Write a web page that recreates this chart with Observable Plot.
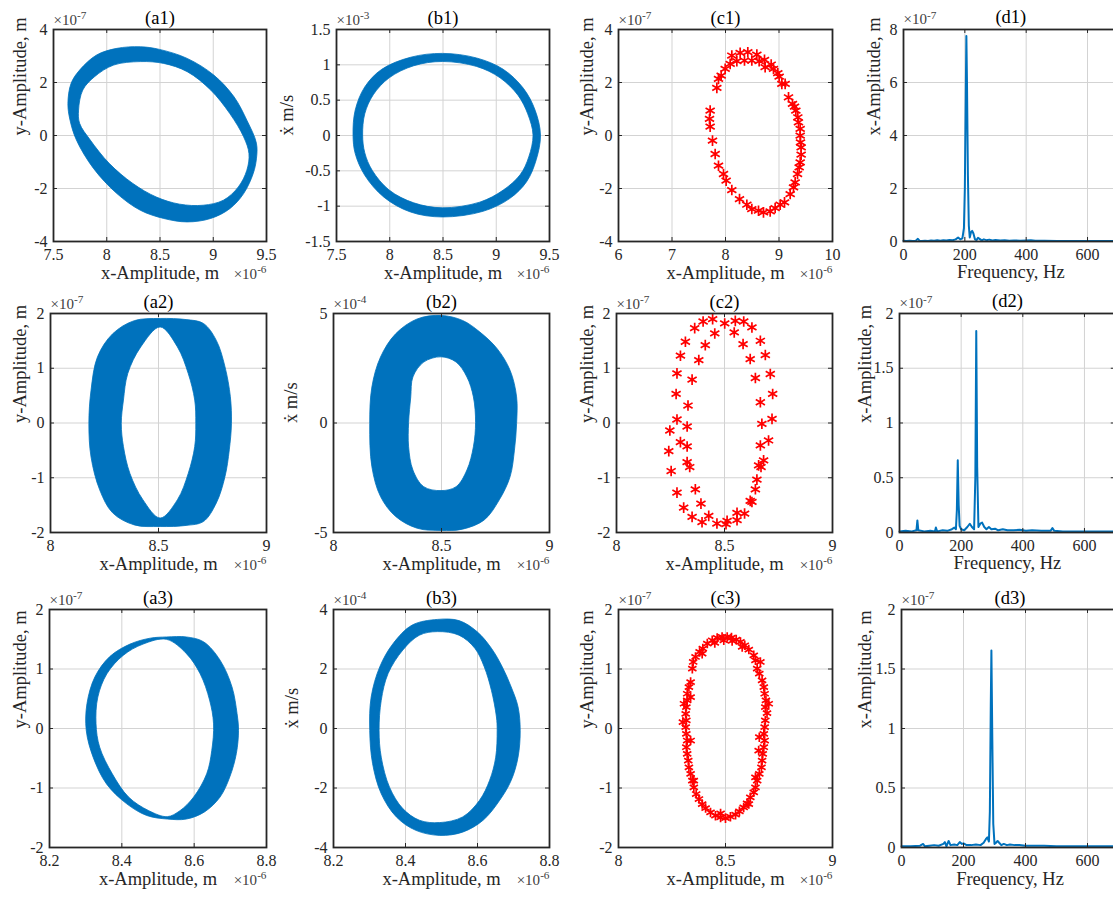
<!DOCTYPE html>
<html><head><meta charset="utf-8">
<script src="https://cdn.jsdelivr.net/npm/d3@7"></script>
<script src="https://cdn.jsdelivr.net/npm/@observablehq/plot@0.6"></script>
<style>
html,body{margin:0;padding:0;background:#fff;width:1113px;height:899px;overflow:hidden;position:relative;}
.panel{position:absolute;}
.panel svg{background:transparent;overflow:visible;}
</style></head><body>
<script>
// ---------- DATA (x in ×10^-6 m, y in the axis multiplier units) ----------
// Phase portraits: outer and inner boundary of each trajectory band
const a1Outer = [[7.64,1.19],[7.67,1.95],[7.75,2.45],[7.91,3.02],[8.10,3.27],[8.32,3.33],[8.50,3.23],[8.76,2.89],[9.01,2.26],[9.20,1.44],[9.32,0.56],[9.41,-0.31],[9.41,-0.9],[9.38,-1.45],[9.29,-2.21],[9.16,-2.78],[8.98,-3.15],[8.76,-3.28],[8.54,-3.15],[8.32,-2.84],[8.10,-2.21],[7.88,-1.26],[7.72,-0.19],[7.66,0.56]];
const a1Inner = [[7.74,0.94],[7.78,1.70],[7.89,2.20],[8.07,2.64],[8.32,2.77],[8.54,2.70],[8.76,2.39],[8.98,1.70],[9.16,0.81],[9.29,-0.07],[9.34,-0.70],[9.32,-1.33],[9.24,-1.96],[9.10,-2.46],[8.91,-2.65],[8.69,-2.61],[8.47,-2.34],[8.25,-1.83],[8.03,-1.08],[7.85,-0.19],[7.75,0.44]];

const b1Outer = [[8.5,1.155],[8.82,1.09],[9.07,0.93],[9.26,0.66],[9.37,0.35],[9.42,0],[9.38,-0.35],[9.29,-0.66],[9.13,-0.9],[8.88,-1.08],[8.5,-1.16],[8.2,-1.09],[7.95,-0.88],[7.77,-0.57],[7.68,-0.26],[7.66,0],[7.68,0.35],[7.77,0.68],[7.93,0.93],[8.2,1.10]];
const b1Inner = [[8.5,1.04],[8.82,0.97],[9.04,0.81],[9.21,0.56],[9.30,0.30],[9.35,0],[9.31,-0.31],[9.23,-0.56],[9.07,-0.78],[8.85,-0.95],[8.5,-1.03],[8.23,-0.96],[8.0,-0.78],[7.84,-0.50],[7.77,-0.25],[7.75,0],[7.77,0.30],[7.85,0.57],[8.0,0.81],[8.23,0.98]];

const a2Outer = [[8.51,1.90],[8.63,1.88],[8.71,1.81],[8.77,1.50],[8.81,1.02],[8.835,0.47],[8.84,-0.02],[8.83,-0.50],[8.81,-0.99],[8.77,-1.47],[8.71,-1.81],[8.63,-1.88],[8.51,-1.90],[8.39,-1.87],[8.29,-1.65],[8.23,-1.23],[8.19,-0.63],[8.18,-0.02],[8.19,0.59],[8.22,1.20],[8.29,1.62],[8.39,1.86]];
const a2Inner = [[8.51,1.745],[8.59,1.38],[8.64,0.895],[8.67,0.41],[8.675,-0.02],[8.67,-0.44],[8.64,-0.93],[8.59,-1.41],[8.51,-1.745],[8.43,-1.41],[8.37,-0.93],[8.34,-0.44],[8.33,-0.02],[8.34,0.41],[8.36,0.895],[8.42,1.38]];

const b2Outer = [[8.5,4.89],[8.60,4.66],[8.68,4.13],[8.76,3.37],[8.82,2.38],[8.85,1.17],[8.85,-0.05],[8.84,-1.26],[8.82,-2.47],[8.77,-3.53],[8.70,-4.45],[8.60,-4.87],[8.5,-4.93],[8.39,-4.83],[8.29,-4.29],[8.22,-3.38],[8.18,-2.02],[8.17,-0.05],[8.18,1.62],[8.22,2.99],[8.29,4.05],[8.39,4.73]];
const b2Inner = [[8.5,3.0],[8.57,2.76],[8.62,2.08],[8.65,1.17],[8.66,0],[8.65,-1.11],[8.62,-2.17],[8.57,-2.93],[8.5,-3.11],[8.42,-2.93],[8.37,-2.17],[8.35,-1.11],[8.35,0],[8.36,1.17],[8.37,2.08],[8.42,2.76]];

const a3Outer = [[8.525,1.53],[8.58,1.53],[8.627,1.45],[8.673,1.14],[8.706,0.69],[8.72,0.24],[8.724,-0.04],[8.718,-0.43],[8.70,-0.82],[8.673,-1.16],[8.63,-1.41],[8.58,-1.53],[8.527,-1.53],[8.47,-1.47],[8.414,-1.27],[8.359,-0.94],[8.322,-0.49],[8.303,-0.04],[8.305,0.41],[8.327,0.86],[8.368,1.20],[8.424,1.41],[8.48,1.51]];
const a3Inner = [[8.525,1.49],[8.58,1.25],[8.618,0.91],[8.644,0.47],[8.655,0.07],[8.65,-0.38],[8.636,-0.77],[8.60,-1.16],[8.562,-1.39],[8.527,-1.49],[8.476,-1.39],[8.42,-1.16],[8.375,-0.77],[8.34,-0.32],[8.33,0.07],[8.335,0.52],[8.36,0.91],[8.405,1.22],[8.46,1.41]];

const b3Outer = [[8.49,3.65],[8.55,3.61],[8.60,3.24],[8.64,2.68],[8.67,2.06],[8.695,1.38],[8.714,0.71],[8.72,-0.08],[8.714,-0.98],[8.695,-1.76],[8.663,-2.43],[8.617,-3.10],[8.56,-3.50],[8.496,-3.61],[8.43,-3.44],[8.376,-2.99],[8.334,-2.21],[8.31,-1.20],[8.302,-0.08],[8.306,1.04],[8.33,2.06],[8.367,2.84],[8.42,3.46]];
const b3Inner = [[8.49,3.24],[8.55,3.12],[8.594,2.68],[8.62,2.06],[8.64,1.27],[8.654,0.37],[8.656,-0.08],[8.652,-0.98],[8.635,-1.76],[8.607,-2.43],[8.56,-2.99],[8.496,-3.18],[8.44,-3.10],[8.394,-2.71],[8.357,-1.99],[8.334,-0.98],[8.328,-0.08],[8.334,0.93],[8.353,1.83],[8.394,2.62],[8.44,3.12]];

// Poincaré sections (asterisk markers)
const c1Points = [[7.838,1.796],[7.713,0.94],[7.701,0.625],[7.713,0.335],[7.757,-0.194],[7.807,-0.698],[7.869,-1.139],[7.963,-1.453],[8.012,-1.705],[8.118,-2.058],[8.262,-2.398],[8.399,-2.612],[8.492,-2.776],[8.617,-2.839],[8.710,-2.902],[8.835,-2.864],[8.928,-2.738],[9.022,-2.612],[9.103,-2.524],[9.209,-2.209],[9.271,-1.957],[9.302,-1.768],[9.346,-1.453],[9.377,-1.202],[9.396,-1.013],[9.414,-0.723],[9.414,-0.446],[9.402,-0.257],[9.396,-0.005],[9.396,0.247],[9.364,0.499],[9.352,0.688],[9.315,0.940],[9.290,1.091],[9.252,1.191],[9.178,1.443],[9.115,1.947],[9.053,1.947],[9.003,2.224],[8.978,2.350],[8.897,2.514],[8.854,2.678],[8.741,2.577],[8.729,2.854],[8.629,2.804],[8.586,3.055],[8.492,2.829],[8.417,3.144],[8.355,2.829],[8.274,3.118],[8.212,2.804],[8.118,3.018],[8.087,2.703],[7.994,2.514],[7.919,2.262],[7.869,2.136]];
const c2Points = [[8.319,1.484],[8.362,1.733],[8.401,1.854],[8.445,1.897],[8.455,1.636],[8.411,1.423],[8.381,1.150],[8.296,1.229],[8.280,0.907],[8.350,0.792],[8.276,0.531],[8.331,0.319],[8.280,0.064],[8.247,-0.137],[8.327,-0.064],[8.296,-0.349],[8.327,-0.428],[8.242,-0.513],[8.327,-0.713],[8.339,-0.804],[8.253,-0.877],[8.280,-1.272],[8.365,-1.211],[8.311,-1.545],[8.391,-1.472],[8.350,-1.715],[8.427,-1.697],[8.396,-1.812],[8.465,-1.836],[8.512,-1.788],[8.507,-1.848],[8.558,-1.775],[8.558,-1.642],[8.593,-1.654],[8.619,-1.423],[8.627,-1.442],[8.643,-1.211],[8.650,-1.035],[8.669,-0.804],[8.681,-0.683],[8.658,-0.774],[8.666,-0.410],[8.673,-0.015],[8.666,0.379],[8.643,0.822],[8.619,1.168],[8.586,1.442],[8.545,1.654],[8.501,1.818],[8.550,1.866],[8.589,1.854],[8.627,1.745],[8.666,1.502],[8.689,1.241],[8.712,0.895],[8.723,0.531],[8.720,0.076],[8.704,-0.319]];
const c3Points = [[8.345,1.006],[8.349,1.118],[8.360,1.202],[8.379,1.287],[8.394,1.343],[8.415,1.427],[8.438,1.483],[8.461,1.522],[8.484,1.539],[8.508,1.539],[8.528,1.528],[8.550,1.494],[8.570,1.455],[8.590,1.399],[8.609,1.326],[8.632,1.230],[8.640,1.146],[8.648,1.006],[8.658,0.921],[8.671,0.809],[8.679,0.697],[8.683,0.584],[8.689,0.472],[8.686,0.360],[8.694,0.258],[8.686,0.135],[8.683,0.022],[8.679,-0.090],[8.683,-0.202],[8.679,-0.315],[8.674,-0.427],[8.671,-0.539],[8.668,-0.652],[8.658,-0.764],[8.648,-0.876],[8.640,-0.989],[8.632,-1.073],[8.616,-1.157],[8.601,-1.258],[8.585,-1.326],[8.565,-1.393],[8.547,-1.449],[8.523,-1.483],[8.500,-1.506],[8.477,-1.494],[8.453,-1.466],[8.430,-1.410],[8.407,-1.337],[8.391,-1.270],[8.376,-1.185],[8.363,-1.101],[8.352,-0.989],[8.345,-0.876],[8.337,-0.764],[8.329,-0.652],[8.326,-0.539],[8.321,-0.427],[8.317,-0.315],[8.321,-0.202],[8.317,-0.090],[8.314,0.022],[8.317,0.135],[8.314,0.247],[8.317,0.360],[8.321,0.472],[8.321,0.584],[8.329,0.697],[8.337,0.781],[8.450,1.438],[8.492,1.483],[8.531,1.472],[8.578,1.371],[8.391,1.258],[8.663,1.118],[8.702,0.416],[8.658,-0.146],[8.655,-0.371],[8.640,-0.820],[8.609,-1.270],[8.477,-1.427],[8.352,-0.876],[8.337,-0.202],[8.301,0.107],[8.337,0.528],[8.306,0.416]];

// Frequency spectra: [frequency Hz, x-amplitude ×10^-7 m]
const d1Spectrum = [[0,0.03],[10,0.02],[20,0.03],[30,0.02],[40,0.03],[47,0.1],[52,0.03],[60,0.02],[70,0.03],[80,0.02],[90,0.04],[100,0.03],[110,0.05],[120,0.03],[130,0.05],[140,0.04],[150,0.06],[160,0.05],[170,0.08],[178,0.15],[185,0.08],[192,0.12],[197,0.5],[200,2.0],[203,5.5],[205,7.75],[207,6.0],[210,2.5],[213,0.6],[216,0.15],[220,0.35],[224,0.4],[228,0.3],[233,0.08],[238,0.05],[243,0.14],[248,0.1],[255,0.04],[262,0.08],[270,0.05],[280,0.07],[290,0.04],[300,0.06],[315,0.04],[330,0.05],[345,0.03],[360,0.04],[380,0.03],[400,0.04],[415,0.05],[430,0.03],[460,0.03],[500,0.02],[550,0.02],[600,0.02],[650,0.02],[700,0.02]];
const d2Spectrum = [[0,0.01],[20,0.015],[40,0.01],[55,0.02],[58,0.11],[61,0.02],[80,0.01],[100,0.015],[115,0.01],[118,0.045],[122,0.01],[140,0.02],[155,0.015],[170,0.03],[178,0.045],[183,0.03],[186,0.2],[189,0.66],[192,0.25],[195,0.06],[200,0.03],[210,0.02],[220,0.05],[228,0.08],[235,0.05],[242,0.03],[246,0.5],[249,1.84],[252,0.6],[256,0.05],[262,0.08],[268,0.09],[275,0.05],[282,0.03],[290,0.05],[298,0.03],[310,0.035],[320,0.02],[335,0.03],[350,0.02],[370,0.02],[390,0.025],[410,0.015],[430,0.02],[460,0.015],[490,0.015],[496,0.04],[502,0.015],[530,0.01],[570,0.01],[620,0.01],[700,0.01]];
const d3Spectrum = [[0,0.01],[30,0.01],[60,0.015],[70,0.03],[75,0.01],[90,0.015],[105,0.02],[120,0.015],[135,0.03],[140,0.045],[145,0.01],[152,0.055],[158,0.02],[170,0.025],[180,0.02],[188,0.045],[195,0.03],[200,0.035],[210,0.02],[225,0.02],[240,0.025],[255,0.02],[265,0.04],[272,0.07],[277,0.085],[282,0.05],[285,0.3],[288,1.2],[290,1.655],[293,0.9],[296,0.2],[300,0.03],[305,0.04],[310,0.055],[315,0.04],[322,0.02],[330,0.03],[340,0.02],[350,0.025],[365,0.02],[380,0.02],[400,0.015],[430,0.015],[460,0.015],[500,0.01],[550,0.01],[600,0.01],[700,0.01]];

// Tick values
const xTicksA1B1 = [7.5,8,8.5,9,9.5];
const yTicksA1 = [-4,-2,0,2,4];
const yTicksB1 = [-1.5,-1,-0.5,0,0.5,1,1.5];
const xTicksC1 = [6,7,8,9,10];
const yTicksC1 = [-4,-2,0,2,4];
const xTicksD = [0,200,400,600];
const yTicksD1 = [0,2,4,6,8];
const xTicksRow2 = [8,8.5,9];
const yTicksA2 = [-2,-1,0,1,2];
const yTicksB2 = [-5,0,5];
const yTicksC2 = [-2,-1,0,1,2];
const yTicksD2 = [0,0.5,1,1.5,2];
const xTicksAB3 = [8.2,8.4,8.6,8.8];
const yTicksA3 = [-2,-1,0,1,2];
const yTicksB3 = [-4,-2,0,2,4];
const xTicksC3 = [8,8.5,9];
const yTicksC3 = [-2,-1,0,1,2];
const yTicksD3 = [0,0.5,1,1.5,2];

const titles = ["(a1)","(b1)","(c1)","(d1)","(a2)","(b2)","(c2)","(d2)","(a3)","(b3)","(c3)","(d3)"];

// ---------- STYLE / LAYOUT ----------
const BLUE = "#0072BD", RED = "#FF0000", GRID = "#d3d3d3", AXIS = "#262626";
const FONT = "'Liberation Serif','Times New Roman','DejaVu Serif',serif";
const XA = "x-Amplitude, m", YA = "y-Amplitude, m", XD = "ẋ m/s", FR = "Frequency, Hz";
const E7 = "×10|-7", E6 = "×10|-6", E3 = "×10|-3", E4 = "×10|-4";

function band(outer, inner) {
  return Plot.dot(outer.concat(inner), {
    x: d => d[0], y: d => d[1],
    render(index, scales) {
      const line = d3.line(d => scales.x(d[0]), d => scales.y(d[1])).curve(d3.curveCatmullRomClosed);
      return d3.create("svg:path")
        .attr("d", line(outer) + line(inner))
        .attr("fill", BLUE).attr("fill-rule", "evenodd")
        .attr("stroke", BLUE).attr("stroke-width", 0.8).node();
    }
  });
}

const panels = [
  {left:53, right:266, top:29, bottom:241, xd:[7.5,9.5], yd:[-4,4], xt:xTicksA1B1, yt:yTicksA1, xl:XA, yl:YA, ye:E7, xe:E6, gap:28, band:[a1Outer,a1Inner]},
  {left:336, right:549, top:29, bottom:241, xd:[7.5,9.5], yd:[-1.5,1.5], xt:xTicksA1B1, yt:yTicksB1, xl:XA, yl:XD, ye:E3, xe:E6, gap:44, band:[b1Outer,b1Inner]},
  {left:618, right:832, top:29, bottom:241, xd:[6,10], yd:[-4,4], xt:xTicksC1, yt:yTicksC1, xl:XA, yl:YA, ye:E7, xe:E6, gap:26, stars:c1Points, r:5},
  {left:903, right:1117.7, top:29, bottom:241, xd:[0,700], yd:[0,8], xt:xTicksD, yt:yTicksD1, xl:FR, yl:XA, ye:E7, xe:"", gap:23, spec:d1Spectrum},
  {left:50, right:266, top:313, bottom:532, xd:[8,9], yd:[-2,2], xt:xTicksRow2, yt:yTicksA2, xl:XA, yl:YA, ye:E7, xe:E6, gap:25, band:[a2Outer,a2Inner]},
  {left:333, right:549, top:313, bottom:532, xd:[8,9], yd:[-5,5], xt:xTicksRow2, yt:yTicksB2, xl:XA, yl:XD, ye:E4, xe:E6, gap:37, band:[b2Outer,b2Inner]},
  {left:616, right:832, top:313, bottom:532, xd:[8,9], yd:[-2,2], xt:xTicksRow2, yt:yTicksC2, xl:XA, yl:YA, ye:E7, xe:E6, gap:24, stars:c2Points, r:5},
  {left:899, right:1114.8, top:313, bottom:532, xd:[0,700], yd:[0,2], xt:xTicksD, yt:yTicksD2, xl:FR, yl:XA, ye:E7, xe:"", gap:29, spec:d2Spectrum},
  {left:49, right:266, top:609, bottom:847, xd:[8.2,8.8], yd:[-2,2], xt:xTicksAB3, yt:yTicksA3, xl:XA, yl:YA, ye:E7, xe:E6, gap:24, band:[a3Outer,a3Inner]},
  {left:333, right:549, top:609, bottom:847, xd:[8.2,8.8], yd:[-4,4], xt:xTicksAB3, yt:yTicksB3, xl:XA, yl:XD, ye:E4, xe:E6, gap:36, band:[b3Outer,b3Inner]},
  {left:618, right:832, top:609, bottom:847, xd:[8,9], yd:[-2,2], xt:xTicksC3, yt:yTicksC3, xl:XA, yl:YA, ye:E7, xe:E6, gap:26, stars:c3Points, r:4.5},
  {left:901, right:1118, top:609, bottom:847, xd:[0,700], yd:[0,2], xt:xTicksD, yt:yTicksD3, xl:FR, yl:XA, ye:E7, xe:"", gap:31, spec:d3Spectrum}
];

const ml = 72, mr = 14, mt = 40, mb = 50;
const fmt = d => String(d);

function superscript(svg) {
  svg.querySelectorAll("text").forEach(t => {
    const s = t.textContent;
    if (!s.includes("|")) return;
    const [base, exp] = s.split("|");
    while (t.firstChild) t.removeChild(t.firstChild);
    const ns = "http://www.w3.org/2000/svg";
    const a = document.createElementNS(ns, "tspan"); a.textContent = base;
    const b = document.createElementNS(ns, "tspan"); b.textContent = exp;
    b.setAttribute("dy", "-0.45em"); b.setAttribute("font-size", "0.75em");
    t.appendChild(a); t.appendChild(b);
  });
}

panels.forEach((p, i) => {
  const W = p.right - p.left, H = p.bottom - p.top;
  const marks = [
    Plot.ruleX(p.xt, {x: d => d, stroke: GRID, strokeWidth: 1}),
    Plot.ruleY(p.yt, {y: d => d, stroke: GRID, strokeWidth: 1})
  ];
  if (p.band) marks.push(band(p.band[0], p.band[1]));
  if (p.stars) marks.push(Plot.dot(p.stars, {x: d => d[0], y: d => d[1], symbol: "asterisk", r: p.r, stroke: RED, strokeWidth: 1.7}));
  if (p.spec) marks.push(Plot.line(p.spec, {x: d => d[0], y: d => d[1], stroke: BLUE, strokeWidth: 2}));
  marks.push(
    Plot.tickX(p.xt, {x: d => d, insetTop: H - 4, stroke: AXIS}),
    Plot.tickX(p.xt, {x: d => d, insetBottom: H - 4, stroke: AXIS}),
    Plot.tickY(p.yt, {y: d => d, insetRight: W - 4, stroke: AXIS}),
    Plot.tickY(p.yt, {y: d => d, insetLeft: W - 4, stroke: AXIS}),
    Plot.frame({stroke: AXIS, strokeWidth: 1.8}),
    Plot.axisX({ticks: p.xt, tickSize: 0, tickPadding: 7, fontSize: 16, tickFormat: fmt, label: null}),
    Plot.axisY({ticks: p.yt, tickSize: 0, tickPadding: 6, fontSize: 16, tickFormat: fmt, label: null}),
    Plot.text([titles[i]], {text: d => d, frameAnchor: "top", dy: -6, lineAnchor: "bottom", fontSize: 18.5, fill: "#000"}),
    Plot.text([p.xl], {text: d => d, frameAnchor: "bottom", dy: 37, lineAnchor: "bottom", fontSize: 18.5, fill: AXIS}),
    Plot.text([p.yl], {text: d => d, frameAnchor: "left", dx: -p.gap, rotate: -90, lineAnchor: "bottom", fontSize: 18.5, fill: AXIS}),
    Plot.text([p.ye], {text: d => d, frameAnchor: "top-left", dy: -5, textAnchor: "start", lineAnchor: "bottom", fontSize: 15, fill: "#404040"})
  );
  if (p.xe) marks.push(Plot.text([p.xe], {text: d => d, frameAnchor: "bottom-right", dy: 37, textAnchor: "end", lineAnchor: "bottom", fontSize: 15, fill: "#404040"}));

  const svg = Plot.plot({
    width: W + ml + mr, height: H + mt + mb,
    marginLeft: ml, marginRight: mr, marginTop: mt, marginBottom: mb,
    x: {domain: p.xd}, y: {domain: p.yd},
    style: {background: "transparent", overflow: "visible", fontFamily: FONT, color: AXIS},
    marks
  });
  superscript(svg);
  const div = document.createElement("div");
  div.className = "panel";
  div.style.left = (p.left - ml) + "px";
  div.style.top = (p.top - mt) + "px";
  div.style.width = (W + ml + mr) + "px";
  div.appendChild(svg);
  document.body.appendChild(div);
});
</script>
</body></html>
